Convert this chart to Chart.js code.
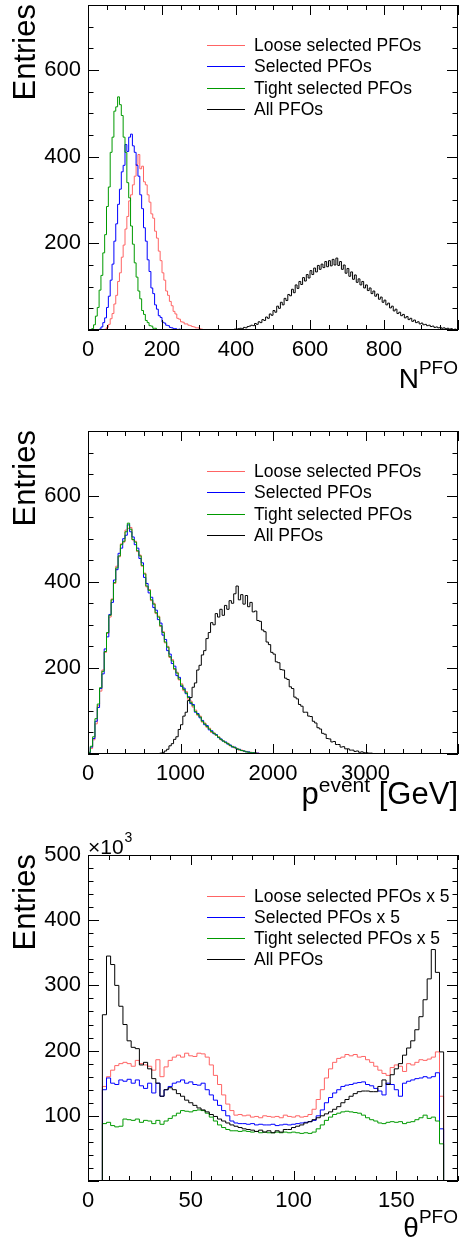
<!DOCTYPE html>
<html>
<head>
<meta charset="utf-8">
<script src="https://cdn.jsdelivr.net/npm/chart.js@4.4.0/dist/chart.umd.min.js"></script>
<style>
  body { margin: 0; background: #fff; }
  #wrap { position: relative; width: 460px; height: 1243px; }
  canvas { position: absolute; left: 0; }
</style>
</head>
<body>
<div id="wrap">
  <canvas id="c1" width="460" height="410" style="top:0"></canvas>
  <canvas id="c2" width="460" height="410" style="top:410px"></canvas>
  <canvas id="c3" width="460" height="423" style="top:820px"></canvas>
</div>
<script>
// legend names (legend order) and colours
const pfoNames = ['Loose selected PFOs', 'Selected PFOs', 'Tight selected PFOs', 'All PFOs'];
const thetaNames = ['Loose selected PFOs x 5', 'Selected PFOs x 5', 'Tight selected PFOs x 5', 'All PFOs'];
const pfoColors = ['#ff6464', '#0000ff', '#009a00', '#000000'];

// ---- N^PFO, bins of 5 ----
const nBinW = 5;
const nColStart = 0;
const nLoose = [0,0,0,0,0,0,0,0,1,2, 6,13,26,38,60,80,112,132,168,196,
  233,262,298,312,335,355,382,405,372,378, 342,335,312,295,268,258,228,212,182,160,
  132,115,90,80,66,56,43,37,27,25, 19,18,14,14,11,10,8,7,5,5, 3,2,1,0];
const nSelected = [0,0,0,0,0,0,2,7,17,28, 52,78,115,152,205,245,290,325,365,380,
  428,412,445,452,425,410,380,355,312,280, 236,205,162,135,97,84,58,48,33,29,
  18,16,11,10,6,5,3,3,1,2, 1,0,0,0,0,0,0,0,0,0, 0,0,0,0];
const nTight = [0,0,3,12,32,52,92,126,178,220, 285,330,410,445,505,515,538,520,495,445,
  410,340,305,240,198,155,122,90,72,45, 36,22,17,10,9,4,4,1,1,0,
  0,0,0,0,0,0,0,0,0,0, 0,0,0,0,0,0,0,0,0,0, 0,0,0,0];
const nAllStart = 380;
const nAll = [0,1,1,2,2,3,4,3,6,5,8,9,
  11,10,15,13,19,17,24,22,30,27,37,34,
  45,41,55,50,64,58,73,68,82,79,94,86,
  104,96,112,105,121,113,128,120,137,128,143,134,
  149,140,152,144,158,146,160,148,163,150,166,149,
  158,140,150,131,142,124,134,117,127,110,118,104,
  112,97,104,91,97,84,90,78,83,71,76,64,
  69,58,62,51,55,44,48,38,41,33,36,28,
  31,24,27,20,23,17,19,14,16,12,13,10,
  11,8,9,6,7,5,6,4,5,3,4,2,
  3,1,2,1];
const nXLabels = [0, 200, 400, 600, 800];
const nYLabels = [200, 400, 600];

// ---- p^event, bins of 25 GeV ----
const pBinW = 25;
const pColStart = 0;
const pLoose = [2,13,33,70,112,146,195,236,280,318, 360,396,436,458,488,492,520,524,526,497,
  494,470,462,436,420,388,382,356,350,326, 320,296,284,258,250,224,219,196,190,172,
  163,147,145,127,123,109,102,90,88,74, 72,62,60,50,49,43,40,33,31,26,
  25,19,18,14,13,9,9,6,6,4, 4,3,3,2,1,1,0,0,0,0];
const pSelected = [3,16,36,76,108,152,186,244,272,324, 352,404,428,466,478,500,508,532,516,504,
  486,478,454,444,410,396,374,364,340,334, 312,304,276,266,240,232,210,204,182,178,
  157,153,140,133,117,115,97,94,84,78, 68,66,56,54,47,45,38,35,30,28,
  23,21,16,16,11,11,8,7,5,5, 3,3,2,2,1,1,0,0,0,0];
const pTight = [4,18,40,82,116,154,192,238,282,322, 358,398,432,460,486,494,516,536,522,498,
  492,472,460,438,418,390,380,358,348,328, 318,298,282,260,248,226,216,198,188,174,
  160,150,142,131,120,112,99,92,86,76, 70,64,58,52,48,44,39,34,30,27,
  24,20,17,15,12,10,8,7,5,4, 3,3,2,1,1,0,0,0,0,0];
const pAllStart = 700;
const pAll = [0,0,1,2,3,7,11,19,24,34,40,57,
  68,88,97,124,131,155,165,195,206,230,240,268,
  282,305,300,326,318,336,322,345,336,356,350,372,
  390,358,370,348,368,342,352,330,332,310,308,288,
  284,260,254,236,232,214,212,196,195,176,173,156,
  152,132,128,115,111,97,97,88,87,76,72,61,
  58,48,46,36,35,28,29,22,22,16,17,12,
  12,9,9,6,7,4,5,3,3,2,2,1,
  1,1,0,1,0,0,0,0];
const pXLabels = [0, 1000, 2000, 3000];
const pYLabels = [200, 400, 600];

// ---- theta^PFO, bins of 2 deg, values in 10^3 ----
const tBinW = 2;
const tStart = 7;
const tLoose = [145,160,170,177,180,182,180,176,185,180, 178,176,170,186,160,175,185,190,193,190,
  196,192,191,196,195,190,178,162,148,132, 118,108,101,102,100,101,98,99,97,100,
  99,98,99,97,101,99,98,100,98,99, 102,110,125,140,158,172,182,188,190,194,
  192,194,190,191,186,182,176,170,165,162, 174,178,176,168,180,178,182,186,185,187,
  190,198,130];
const tSelected = [140,158,150,148,155,153,156,150,155,146, 142,150,135,150,130,140,145,150,152,155,
  150,152,148,147,150,140,132,124,116,108, 100,92,89,88,88,87,88,86,87,86,
  86,87,85,86,87,86,87,88,89,90, 91,93,100,109,120,128,135,140,145,147,
  148,150,151,152,148,146,142,138,132,150, 148,140,130,150,153,155,157,158,160,158,
  160,166,80];
const tTight = [88,90,85,83,84,95,94,93,95,90, 93,92,88,93,87,92,96,100,104,108,
  107,106,108,109,108,104,98,92,86,82, 79,77,77,76,77,76,75,76,74,75,
  74,74,75,74,75,74,75,74,73,74, 73,75,80,86,93,98,102,104,106,107,
  106,105,104,101,97,94,92,89,88,90, 91,90,91,88,90,91,94,97,101,96,
  98,92,57];
const tAll = [255,345,332,300,268,240,215,205,203,178, 182,172,157,150,130,140,143,140,134,130,
  124,120,116,112,109,106,102,99,95,92, 89,86,84,82,80,79,78,76,78,75,
  77,74,77,75,79,79,82,84,86,89, 91,94,97,100,103,106,110,114,120,125,
  130,134,137,138,138,137,137,145,155,148, 163,172,180,193,204,215,232,252,278,310,
  355,320,198];
const tXLabels = [0, 50, 100, 150];
const tYLabels = [100, 200, 300, 400, 500];

const FONT = '"Liberation Sans", Arial, Helvetica, sans-serif';
Chart.defaults.font.family = FONT;

// histogram outline as points for a 'before' stepped line
function histPoints(lo, w, vals, xmin, xmax) {
  const hi = lo + w * vals.length;
  const pts = [{x: xmin, y: 0}, {x: lo, y: 0}];
  vals.forEach((v, i) => pts.push({x: lo + i * w, y: v}));
  pts.push({x: hi, y: vals[vals.length - 1]}, {x: hi, y: 0}, {x: xmax, y: 0});
  return pts;
}

// ROOT-like frame, inward ticks, legend and titles
const rootStyle = {
  id: 'rootStyle',
  afterDatasetsDraw(chart, args, o) {
    const ctx = chart.ctx;
    const a = chart.chartArea;
    const x = chart.scales.x, y = chart.scales.y;
    ctx.save();
    ctx.strokeStyle = '#000';
    ctx.lineWidth = 1;
    ctx.beginPath();
    ctx.rect(a.left + 0.5, a.top + 0.5, a.width - 1, a.height - 1);
    for (let v = x.min; v <= x.max; v += o.xMinor) {
      const px = Math.round(x.getPixelForValue(v)) + 0.5;
      const len = v % o.xMajor === 0 ? 10 : 5;
      ctx.moveTo(px, a.bottom); ctx.lineTo(px, a.bottom - len);
      ctx.moveTo(px, a.top); ctx.lineTo(px, a.top + len);
    }
    for (let v = y.min; v <= y.max; v += o.yMinor) {
      const py = Math.round(y.getPixelForValue(v)) + 0.5;
      const len = v % o.yMajor === 0 ? 11 : 5.5;
      ctx.moveTo(a.left, py); ctx.lineTo(a.left + len, py);
      ctx.moveTo(a.right, py); ctx.lineTo(a.right - len, py);
    }
    ctx.stroke();

    // legend
    ctx.font = '17.5px ' + FONT;
    ctx.textAlign = 'left';
    ctx.textBaseline = 'middle';
    chart.data.datasets.forEach((ds, i) => {
      const ly = Math.round(a.top + o.legendTop + i * 21.1) + 0.5;
      ctx.beginPath();
      ctx.strokeStyle = pfoColors[i];
      ctx.lineWidth = 1.2;
      ctx.moveTo(a.left + 119, ly);
      ctx.lineTo(a.left + 157, ly);
      ctx.stroke();
      ctx.fillStyle = '#000';
      ctx.fillText(ds.label, a.left + 166, ly + 1);
    });

    // y title
    ctx.save();
    ctx.translate(35, a.top - 1);
    ctx.rotate(-Math.PI / 2);
    ctx.font = '31px ' + FONT;
    ctx.fillStyle = '#000';
    ctx.textAlign = 'right';
    ctx.textBaseline = 'alphabetic';
    ctx.fillText('Entries', 0, 0);
    ctx.restore();

    // x title with superscript
    ctx.textAlign = 'left';
    ctx.textBaseline = 'alphabetic';
    const fontOf = p => (p.sup ? o.supSize : o.mainSize) + 'px ' + FONT;
    let w = 0;
    o.xTitle.forEach(p => { ctx.font = fontOf(p); w += ctx.measureText(p.t).width; });
    let cx = a.right - w;
    o.xTitle.forEach(p => {
      ctx.font = fontOf(p);
      ctx.fillText(p.t, cx, a.bottom + o.titleDy - (p.sup ? o.supRaise : 0));
      cx += ctx.measureText(p.t).width;
    });

    if (o.exponent) {
      ctx.font = '21px ' + FONT;
      ctx.fillText('\u00d710', a.left, a.top - 1);
      const ew = ctx.measureText('\u00d710').width;
      ctx.font = '14px ' + FONT;
      ctx.fillText('3', a.left + ew + 1, a.top - 13);
    }
    ctx.restore();
  }
};

function drawPanel(id, cfg) {
  const ctx = document.getElementById(id).getContext('2d');
  const sets = cfg.series.map((s, i) => ({
    label: cfg.names[i],
    data: s,
    borderColor: pfoColors[i],
    borderWidth: 1,
    pointRadius: 0,
    stepped: 'before',
    fill: false,
    order: [3, 2, 1, 0][i]
  }));
  return new Chart(ctx, {
    type: 'line',
    data: { datasets: sets },
    plugins: [rootStyle],
    options: {
      responsive: false,
      animation: false,
      devicePixelRatio: 1,
      layout: { padding: { top: cfg.top, right: 2, left: 0, bottom: 0 } },
      plugins: {
        legend: { display: false },
        tooltip: { enabled: false },
        rootStyle: cfg.style
      },
      scales: {
        x: {
          type: 'linear', min: cfg.xMin, max: cfg.xMax,
          afterBuildTicks: s => { s.ticks = cfg.xLabels.map(v => ({ value: v })); },
          afterFit: s => { s.height = cfg.xHeight; s.paddingLeft = 0; s.paddingRight = 0; },
          grid: { display: false, drawTicks: false },
          border: { display: false },
          ticks: { autoSkip: false, maxRotation: 0, padding: 7, color: '#000',
                   font: { size: 22 }, callback: v => String(v) }
        },
        y: {
          type: 'linear', min: cfg.yMin, max: cfg.yMax,
          afterBuildTicks: s => { s.ticks = cfg.yLabels.map(v => ({ value: v })); },
          afterFit: s => { s.width = 88; s.paddingTop = 0; s.paddingBottom = 0; },
          grid: { display: false, drawTicks: false },
          border: { display: false },
          ticks: { padding: 7, color: '#000', font: { size: 22 }, callback: v => String(v) }
        }
      }
    }
  });
}

drawPanel('c1', {
  names: pfoNames,
  series: [
    histPoints(nColStart, nBinW, nLoose, 0, 1000),
    histPoints(nColStart, nBinW, nSelected, 0, 1000),
    histPoints(nColStart, nBinW, nTight, 0, 1000),
    histPoints(nAllStart, nBinW, nAll, 0, 1000)
  ],
  xMin: 0, xMax: 1000, yMin: 0, yMax: 750,
  xLabels: nXLabels, yLabels: nYLabels,
  top: 5, xHeight: 80,
  style: { xMinor: 50, xMajor: 200, yMinor: 50, yMajor: 200, legendTop: 40.3,
           titleDy: 58, supRaise: 14, mainSize: 28, supSize: 19,
           xTitle: [{ t: 'N' }, { t: 'PFO', sup: true }] }
});

drawPanel('c2', {
  names: pfoNames,
  series: [
    histPoints(pColStart, pBinW, pLoose, 0, 4000),
    histPoints(pColStart, pBinW, pSelected, 0, 4000),
    histPoints(pColStart, pBinW, pTight, 0, 4000),
    histPoints(pAllStart, pBinW, pAll, 0, 4000)
  ],
  xMin: 0, xMax: 4000, yMin: 0, yMax: 750,
  xLabels: pXLabels, yLabels: pYLabels,
  top: 21, xHeight: 66,
  style: { xMinor: 200, xMajor: 1000, yMinor: 50, yMajor: 200, legendTop: 40.3,
           titleDy: 50, supRaise: 12, mainSize: 31, supSize: 21,
           xTitle: [{ t: 'p' }, { t: 'event', sup: true }, { t: ' [GeV]' }] }
});

drawPanel('c3', {
  names: thetaNames,
  series: [
    histPoints(tStart, tBinW, tLoose, 0, 180),
    histPoints(tStart, tBinW, tSelected, 0, 180),
    histPoints(tStart, tBinW, tTight, 0, 180),
    histPoints(tStart, tBinW, tAll, 0, 180)
  ],
  xMin: 0, xMax: 180, yMin: 0, yMax: 500,
  xLabels: tXLabels, yLabels: tYLabels,
  top: 35, xHeight: 62,
  style: { xMinor: 10, xMajor: 50, yMinor: 20, yMajor: 100, legendTop: 41,
           titleDy: 56, supRaise: 14, mainSize: 28, supSize: 19, exponent: true,
           xTitle: [{ t: '\u03b8' }, { t: 'PFO', sup: true }] }
});
</script>
</body>
</html>
